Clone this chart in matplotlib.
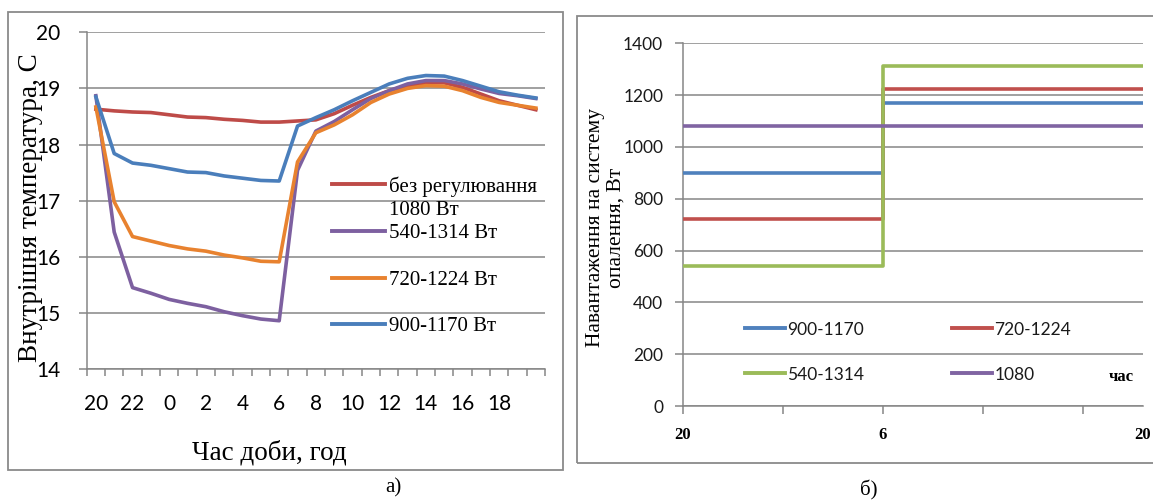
"""
Внутрішня температура та навантаження на систему опалення (а, б)
"""
import numpy as np
import matplotlib
matplotlib.use('Agg')
import matplotlib.pyplot as plt
from matplotlib.patches import Rectangle

SERIF = 'Liberation Serif'
SANS = 'Lato'
GRID = '#868686'

# ── а) внутрішня температура, погодинно з 20:00 до 20:00 ──
hours = [20, 21, 22, 23, 0, 1, 2, 3, 4, 5, 6, 7, 8, 9, 10, 11, 12, 13, 14, 15, 16, 17, 18, 19, 20]
t_none = [18.63, 18.60, 18.58, 18.57, 18.53, 18.49, 18.48, 18.45, 18.43, 18.40, 18.40, 18.42, 18.44,
          18.55, 18.70, 18.84, 18.96, 19.05, 19.10, 19.10, 19.02, 18.90, 18.78, 18.70, 18.62]
t_540 = [18.87, 16.44, 15.45, 15.35, 15.24, 15.17, 15.11, 15.02, 14.95, 14.89, 14.86, 17.54, 18.24,
         18.41, 18.62, 18.82, 18.96, 19.08, 19.14, 19.14, 19.08, 18.99, 18.91, 18.87, 18.82]
t_720 = [18.67, 16.98, 16.36, 16.28, 16.20, 16.14, 16.10, 16.03, 15.98, 15.92, 15.91, 17.69, 18.21,
         18.35, 18.53, 18.75, 18.90, 19.00, 19.05, 19.04, 18.96, 18.84, 18.75, 18.70, 18.65]
t_900 = [18.85, 17.84, 17.67, 17.63, 17.57, 17.51, 17.50, 17.44, 17.40, 17.36, 17.35, 18.33, 18.48,
         18.62, 18.78, 18.93, 19.08, 19.18, 19.23, 19.22, 19.14, 19.04, 18.94, 18.88, 18.83]
labels_a = ['без регулювання\n1080 Вт', '540-1314 Вт', '720-1224 Вт', '900-1170 Вт']
colors_a = ['#BE4B48', '#7D60A0', '#E8822F', '#4A7EBB']

# ── б) навантаження на систему опалення ──
switch_h = 10          # 06:00, годин від 20:00
end_h = 23
load_night = [900, 720, 540, 1080]
load_day = [1170, 1224, 1314, 1080]
labels_b = ['900-1170', '720-1224', '540-1314', '1080']
colors_b = ['#4F81BD', '#C0504D', '#9BBB59', '#8064A2']

fig = plt.figure(figsize=(11.53, 5.01), dpi=100)
fig.patch.set_facecolor('white')

# рамки обох діаграм
fig.add_artist(Rectangle((0.0069, 0.062), 0.4814, 0.914, transform=fig.transFigure,
                         fill=False, edgecolor='#8a8a8a', lw=1.3))
fig.add_artist(Rectangle((0.5004, 0.0758), 0.52, 0.8928, transform=fig.transFigure,
                         fill=False, edgecolor='#8a8a8a', lw=1.3))

# ─────────────────────────── а) ───────────────────────────
ax = fig.add_axes([0.0752, 0.2635, 0.3975, 0.672])
x = np.arange(len(hours))
for y, c in zip([t_none, t_540, t_720, t_900], colors_a):
    ax.plot(x, y, color=c, lw=2.6, solid_joinstyle='round', zorder=3)

ax.set_xlim(-0.5, len(hours) - 0.5)
ax.set_ylim(14, 20)
ax.set_yticks(range(14, 21))
ax.yaxis.grid(True, color=GRID, lw=1.1)
ax.set_axisbelow(True)
for s in ['top', 'right']:
    ax.spines[s].set_visible(False)
for s in ['left', 'bottom']:
    ax.spines[s].set_color(GRID)
    ax.spines[s].set_linewidth(1.1)

# поділки між категоріями, підписи — через одну годину
ax.set_xticks(np.arange(-0.5, len(hours), 1))
ax.set_xticklabels([])
ax.set_xticks(x[0:24:2], labels=[str(h) for h in hours[0:24:2]], minor=True)
ax.tick_params(axis='x', which='major', length=5, color=GRID, width=1.1)
ax.tick_params(axis='x', which='minor', length=0, pad=18, labelsize=15)
ax.tick_params(axis='y', length=6, color=GRID, width=1.1, pad=13, labelsize=15)
for lab in ax.get_xticklabels(minor=True) + ax.get_yticklabels():
    lab.set_fontfamily(SANS)

ax.set_ylabel('Внутрішня температура, С', fontsize=19.5, family=SERIF)
ax.yaxis.set_label_coords(-0.095, 0.478)
ax.set_xlabel('Час доби, год', fontsize=19.5, family=SERIF)
ax.xaxis.set_label_coords(0.398, -0.212)

# легенда; перший рядок підпису — на рівні лінії
for i, (lab, c) in enumerate(zip(labels_a, colors_a)):
    yy = 0.549 - i * 0.1387
    ax.plot([0.535, 0.651], [yy, yy], color=c, lw=2.8, transform=ax.transAxes,
            clip_on=False, zorder=4)
    for k, part in enumerate(lab.split('\n')):
        ax.text(0.66, yy - k * 0.0713, part, transform=ax.transAxes, fontsize=15,
                family=SERIF, va='center_baseline', ha='left')

fig.text(393 / 1153, 1 - 488 / 501, 'а)', fontsize=15, family=SERIF, ha='center', va='center')

# ─────────────────────────── б) ───────────────────────────
bx = fig.add_axes([0.5921, 0.1896, 0.3992, 0.724])
for n, d, c in zip(load_night, load_day, colors_b):
    bx.step([0, switch_h, end_h], [n, d, d], where='post', color=c, lw=2.6, zorder=3)

bx.set_xlim(0, end_h)
bx.set_ylim(0, 1400)
bx.set_yticks(range(0, 1401, 200))
bx.yaxis.grid(True, color=GRID, lw=1.1)
bx.set_axisbelow(True)
for s in ['top', 'right']:
    bx.spines[s].set_visible(False)
for s in ['left', 'bottom']:
    bx.spines[s].set_color(GRID)
    bx.spines[s].set_linewidth(1.1)

bx.xaxis.remove_overlapping_locs = False
bx.set_xticks(range(0, end_h, 5))
bx.set_xticklabels([])
bx.set_xticks([0, switch_h, end_h], labels=['20', '6', '20'], minor=True)
bx.tick_params(axis='x', which='major', length=6, color=GRID, width=1.1)
bx.tick_params(axis='x', which='minor', length=0, pad=15, labelsize=12)
bx.tick_params(axis='y', length=6, color=GRID, width=1.1, pad=8, labelsize=12.5,
               labelcolor='#1a1a1a')
for lab in bx.get_xticklabels(minor=True):
    lab.set_fontfamily(SERIF)
    lab.set_fontweight('bold')
for lab in bx.get_yticklabels():
    lab.set_fontfamily(SANS)

bx.set_ylabel('Навантаження на систему\nопалення, Вт', fontsize=15.5, family=SERIF,
              linespacing=1.1)
bx.yaxis.set_label_coords(-0.125, 0.491)

# легенда у дві колонки
for i, (lab, c) in enumerate(zip(labels_b, colors_b)):
    x0 = 0.135 if i % 2 == 0 else 0.585
    yy = 0.215 if i < 2 else 0.091
    bx.plot([x0, x0 + 0.088], [yy, yy], color=c, lw=2.8, transform=bx.transAxes, zorder=4)
    bx.text(x0 + 0.092, yy, lab, transform=bx.transAxes, fontsize=12.5, family=SANS,
            va='center_baseline', ha='left', color='#1a1a1a')
bx.text(0.952, 0.085, 'час', transform=bx.transAxes, fontsize=12, family=SERIF,
        fontweight='bold', ha='center', va='center_baseline')

fig.text(869 / 1153, 1 - 490 / 501, 'б)', fontsize=15, family=SERIF, ha='center', va='center')

plt.savefig('out.png', dpi=100, facecolor='white')
plt.close()
